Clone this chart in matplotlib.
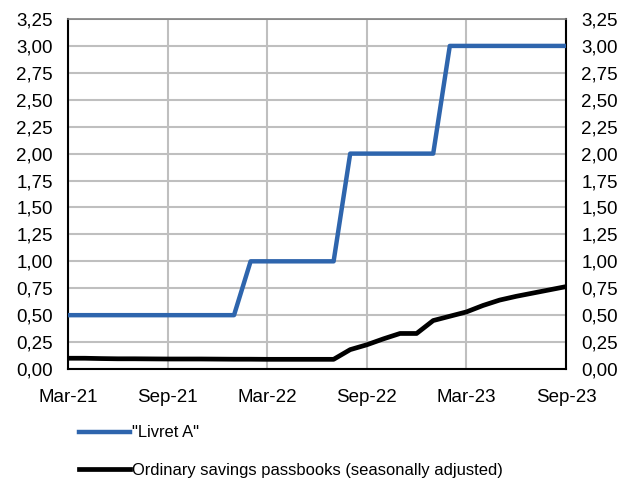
import matplotlib.pyplot as plt
from matplotlib.lines import Line2D

plt.rcParams['font.family'] = ['Liberation Sans', 'DejaVu Sans']

# monthly, Mar-21 .. Sep-23
months = list(range(31))
tick_pos = [0, 6, 12, 18, 24, 30]
tick_labels = ['Mar-21', 'Sep-21', 'Mar-22', 'Sep-22', 'Mar-23', 'Sep-23']

livret_a = [0.5] * 11 + [1.0] * 6 + [2.0] * 6 + [3.0] * 8
savings = [0.10, 0.10, 0.097, 0.095, 0.095, 0.094, 0.093, 0.093, 0.093, 0.092,
           0.091, 0.091, 0.09, 0.09, 0.09, 0.09, 0.09,
           0.18, 0.225, 0.28, 0.33, 0.33, 0.45, 0.49, 0.53, 0.59, 0.64,
           0.675, 0.705, 0.735, 0.765]

yticks = [i * 0.25 for i in range(14)]
ylabels = [f'{v:.2f}'.replace('.', ',') for v in yticks]

fig = plt.figure(figsize=(6.27, 4.82), dpi=100)
ax = fig.add_axes([0.1085, 0.2344, 0.7942, 0.7262])

ax.plot(months, livret_a, color='#2E65AD', lw=3.2, solid_capstyle='butt', zorder=3)
ax.plot(months, savings, color='black', lw=3.4, solid_capstyle='butt', zorder=3)

ax.set_xlim(0, 30)
ax.set_ylim(0, 3.25)
ax.set_xticks(tick_pos)
ax.set_xticklabels(tick_labels)
ax.set_yticks(yticks)
ax.set_yticklabels(ylabels)
ax.tick_params(axis='both', length=0, labelsize=13.5)
ax.tick_params(axis='x', pad=14.5)
ax.tick_params(axis='y', labelright=True, right=False, pad=11)
ax.grid(True, color='#BFBFBF', lw=1.5)
ax.set_axisbelow(True)
for s in ['left', 'bottom', 'right']:
    ax.spines[s].set_color('black')
    ax.spines[s].set_linewidth(1.5)
ax.spines['top'].set_color('#808080')
ax.spines['top'].set_linewidth(1.2)

handles = [Line2D([], [], color='#2E65AD', lw=3.2),
           Line2D([], [], color='black', lw=3.4)]
fig.legend(handles, ['"Livret A"', 'Ordinary savings passbooks (seasonally adjusted)'],
           loc='upper left', bbox_to_anchor=(0.115, 0.131), frameon=False,
           fontsize=11.9, handlelength=3.1, handletextpad=0.1,
           labelspacing=1.35, borderaxespad=0)

fig.savefig('out.png', dpi=100)
